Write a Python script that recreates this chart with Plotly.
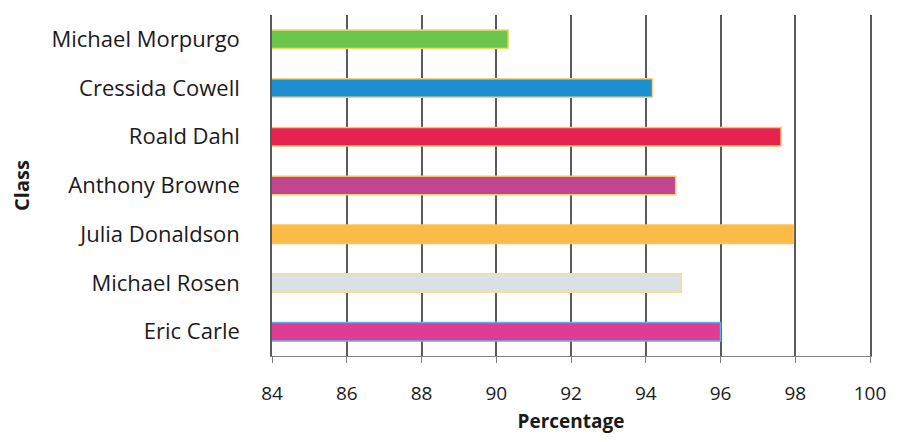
import plotly.graph_objects as go

classes = ["Eric Carle", "Michael Rosen", "Julia Donaldson", "Anthony Browne",
           "Roald Dahl", "Cressida Cowell", "Michael Morpurgo"]
percentages = [96.0, 94.95, 97.95, 94.8, 97.62, 94.18, 90.32]
bar_colors = ["#e03c96", "#dcdfe6", "#fbbb48", "#c2458f", "#e6234f", "#1b8fcf", "#6cc54c"]
border_colors = ["#5ab4ea", "#f3e28a", "#fbc45a", "#f7c76e", "#f9c66a", "#f6d27a", "#f4d86a"]
x_ticks = [84, 86, 88, 90, 92, 94, 96, 98, 100]

fig = go.Figure(go.Bar(
    y=classes, x=percentages, orientation="h",
    marker=dict(color=bar_colors, line=dict(color=border_colors, width=1.5)),
    width=0.38,
))

# The page body adds an 8px margin, so the figure is sized and offset for it
# (kept small enough that the page does not scroll).
font_family = "Open Sans, sans-serif"
fig.update_layout(
    width=882, height=426,
    margin=dict(l=264, r=20, t=7, b=78),
    paper_bgcolor="white", plot_bgcolor="white",
    showlegend=False,
    font=dict(family=font_family, color="#1a1a1a", size=21),
    xaxis=dict(
        range=[84, 100], tickvals=x_ticks, ticktext=[str(v) for v in x_ticks],
        showgrid=True, gridcolor="#5a5a5a", gridwidth=1.5,
        showline=True, linecolor="#808080", linewidth=1,
        ticks="outside", ticklen=6, tickcolor="#808080",
        ticklabelstandoff=14, ticklabeloverflow="allow",
        tickfont=dict(size=19),
        title=dict(text="<b>Percentage</b>", font=dict(size=19), standoff=25),
        zeroline=False, automargin=False,
    ),
    yaxis=dict(
        showgrid=False, showline=True, mirror=True,
        linecolor="#5a5a5a", linewidth=1.5, ticks="",
        ticklabelstandoff=26,
        tickfont=dict(size=22),
        title=dict(text="<b>Class</b>", font=dict(size=20), standoff=22),
        automargin=False,
    ),
)

fig.write_html("out.html")
